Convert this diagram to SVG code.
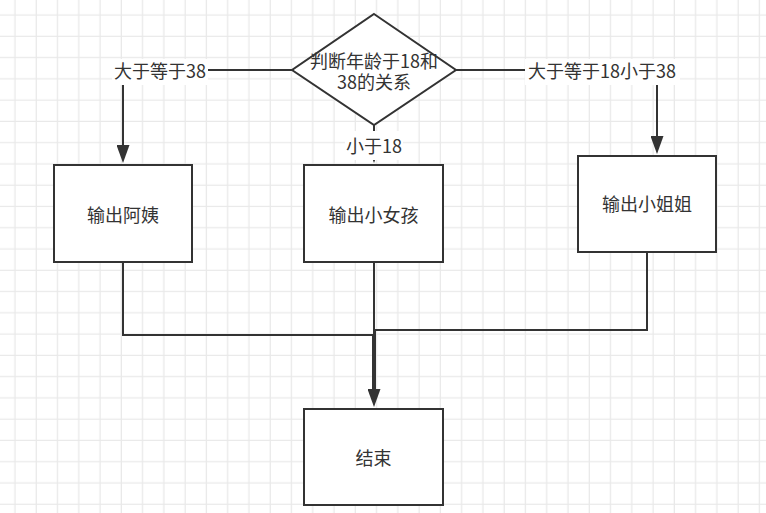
<svg xmlns="http://www.w3.org/2000/svg" width="766" height="513" viewBox="0 0 766 513">
  <style>
    .shape { fill: #ffffff; stroke: #333333; stroke-width: 2; }
    .edge { fill: none; stroke: #333333; stroke-width: 2; }
    .txt { font-family: "Noto Sans CJK SC", "Noto Sans", sans-serif; font-size: 18px; fill: #333333; text-anchor: middle; }
    .lbl-bg { fill: #ffffff; }
  </style>
  <defs>
    <pattern id="grid" x="5" y="5" width="21.27" height="21.27" patternUnits="userSpaceOnUse">
      <path d="M10 0V21.27M0 10H21.27" fill="none" stroke="#e9e9e9" stroke-width="1.3"/>
    </pattern>
    <marker id="arrow" markerUnits="userSpaceOnUse" markerWidth="19" markerHeight="13" viewBox="0 0 19 13" refX="1" refY="6.5" orient="auto">
      <path d="M0 0L18 6.5L0 13Z" fill="#333333"/>
    </marker>
  </defs>
  <rect width="766" height="513" fill="#ffffff"/>
  <rect width="766" height="513" fill="url(#grid)"/>

  <g id="connectors">
    <path class="edge" d="M292 70H123V146" marker-end="url(#arrow)"/>
    <path class="edge" d="M374 125V146" marker-end="url(#arrow)"/>
    <path class="edge" d="M456 70H657V137" marker-end="url(#arrow)"/>
    <path class="edge" d="M123 262V335H373V392"/>
    <path class="edge" d="M647 252V330H375V392"/>
    <path class="edge" d="M374 262V390" marker-end="url(#arrow)"/>
    <g id="label-left">
      <rect class="lbl-bg" x="112" y="59" width="96" height="26"/>
      <text class="txt" x="160" y="78">大于等于38</text>
    </g>
    <g id="label-middle">
      <rect class="lbl-bg" x="345" y="131" width="58" height="29"/>
      <text class="txt" x="374" y="153">小于18</text>
    </g>
    <g id="label-right">
      <rect class="lbl-bg" x="525" y="59" width="155" height="26"/>
      <text class="txt" x="602" y="78">大于等于18小于38</text>
    </g>
  </g>

  <g id="decision">
    <polygon class="shape" points="374,14 456,70 374,125 292,70"/>
    <text class="txt" x="374" y="67.5"><tspan x="374" y="67.5">判断年龄于18和</tspan><tspan x="374" y="88.5">38的关系</tspan></text>
  </g>
  <g id="node-ayi">
    <rect class="shape" x="54" y="165" width="138" height="97"/>
    <text class="txt" x="123" y="221.5">输出阿姨</text>
  </g>
  <g id="node-xiaonvhai">
    <rect class="shape" x="304" y="165" width="139" height="97"/>
    <text class="txt" x="373.5" y="221.5">输出小女孩</text>
  </g>
  <g id="node-xiaojiejie">
    <rect class="shape" x="578" y="156" width="138" height="96"/>
    <text class="txt" x="647" y="211">输出小姐姐</text>
  </g>
  <g id="node-end">
    <rect class="shape" x="304" y="409" width="139" height="96"/>
    <text class="txt" x="373.5" y="465">结束</text>
  </g>
</svg>
